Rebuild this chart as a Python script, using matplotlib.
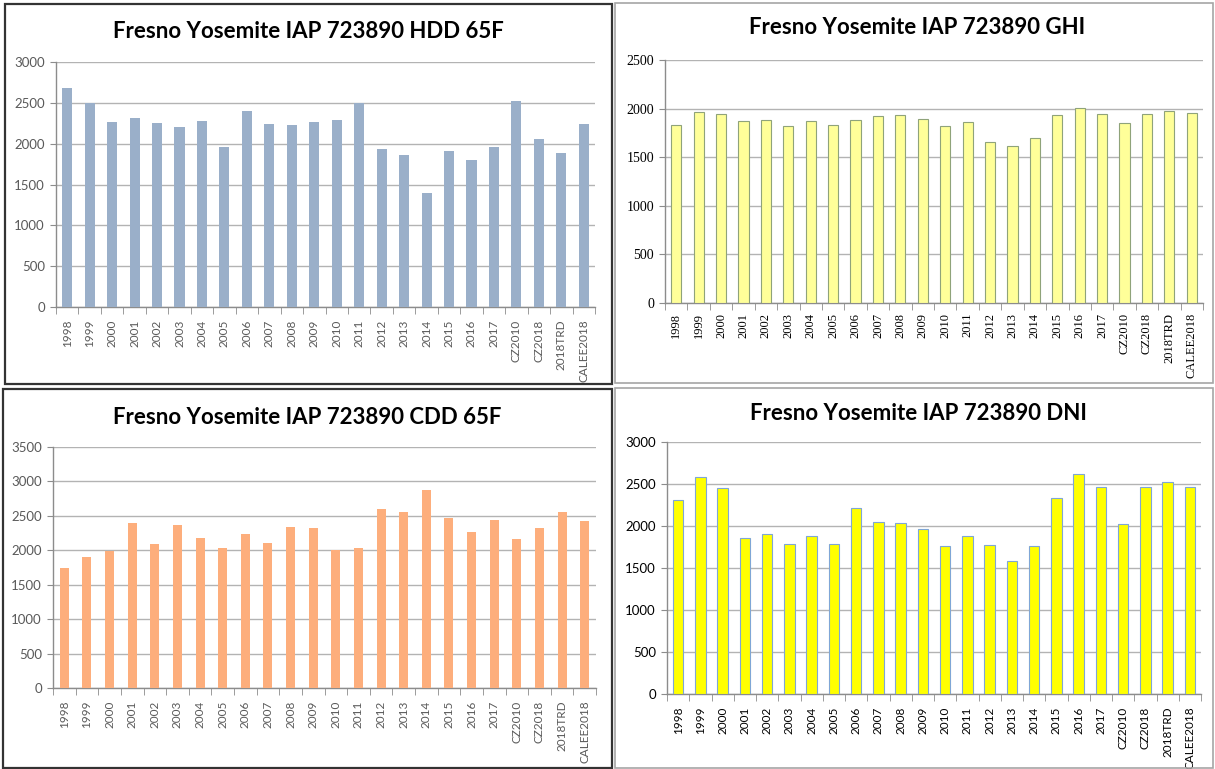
import matplotlib
matplotlib.use("Agg")
import matplotlib.pyplot as plt
from matplotlib.patches import Rectangle
import numpy as np

categories = ["1998", "1999", "2000", "2001", "2002", "2003", "2004", "2005",
              "2006", "2007", "2008", "2009", "2010", "2011", "2012", "2013",
              "2014", "2015", "2016", "2017", "CZ2010", "CZ2018", "2018TRD",
              "CALEE2018"]

hdd = [2680, 2500, 2270, 2310, 2250, 2200, 2280, 1960, 2400, 2240, 2230, 2270,
       2290, 2500, 1940, 1860, 1390, 1910, 1800, 1960, 2520, 2060, 1890, 2240]
ghi = [1830, 1970, 1940, 1870, 1880, 1820, 1870, 1830, 1880, 1920, 1930, 1890,
       1820, 1860, 1660, 1620, 1700, 1930, 2010, 1940, 1850, 1940, 1980, 1950]
cdd = [1740, 1900, 1990, 2390, 2090, 2360, 2180, 2030, 2240, 2100, 2340, 2330,
       2000, 2040, 2600, 2560, 2870, 2470, 2270, 2440, 2170, 2330, 2550, 2430]
dni = [2310, 2580, 2450, 1860, 1900, 1780, 1880, 1780, 2210, 2050, 2040, 1960,
       1760, 1880, 1770, 1580, 1760, 2330, 2620, 2460, 2020, 2460, 2520, 2460]

W, H = 1215, 769
fig = plt.figure(figsize=(W / 100, H / 100), dpi=100)
fig.patch.set_facecolor("white")


def px_axes(x0, y0, x1, y1):
    return fig.add_axes([x0 / W, 1 - y1 / H, (x1 - x0) / W, (y1 - y0) / H])


def frame(x0, y0, x1, y1, color, lw):
    fig.add_artist(Rectangle((x0 / W, 1 - y1 / H), (x1 - x0) / W, (y1 - y0) / H,
                             transform=fig.transFigure, fill=False,
                             edgecolor=color, linewidth=lw))


def panel(box, values, ymax, title, title_xy, face, edge, width,
          tick_font, tick_color, ysize, xsize, xpad):
    ax = px_axes(*box)
    x = np.arange(len(categories))
    ax.bar(x, values, width=width, color=face, edgecolor=edge,
           linewidth=0.8 if edge != "none" else 0, zorder=3)
    ax.set_xlim(-0.5, len(categories) - 0.5)
    ax.set_ylim(0, ymax)
    ax.set_yticks(np.arange(0, ymax + 1, 500))
    ax.yaxis.grid(True, color="#b3b3b3", linewidth=1.0, zorder=0)
    for s in ["top", "right"]:
        ax.spines[s].set_visible(False)
    for s in ["left", "bottom"]:
        ax.spines[s].set_color("#8c8c8c")
        ax.spines[s].set_linewidth(1.0)
    ax.set_xticks(x)
    ax.set_xticklabels(categories, rotation=90, fontfamily=tick_font,
                       fontsize=xsize, color=tick_color)
    ax.tick_params(axis="x", which="major", length=0, pad=xpad)
    ax.set_xticks(np.arange(-0.5, len(categories), 1), minor=True)
    ax.tick_params(axis="x", which="minor", length=5, color="#8c8c8c",
                   direction="out")
    ax.tick_params(axis="y", length=4, color="#8c8c8c", direction="out",
                   labelsize=ysize, labelcolor=tick_color, pad=4)
    for lab in ax.get_yticklabels():
        lab.set_fontfamily(tick_font)
    fig.text(title_xy[0] / W, 1 - title_xy[1] / H, title, ha="center",
             va="center", fontsize=16, fontweight="bold", fontfamily="Lato",
             color="black")
    return ax


# panel frames
frame(5, 4, 612, 384, "#333333", 1.6)
frame(615, 3, 1213, 383, "#a6a6a6", 1.2)
frame(3, 389, 612, 768, "#333333", 1.6)
frame(615, 388, 1213, 768, "#a6a6a6", 1.2)

panel((56, 62, 595, 307), hdd, 3000, "Fresno Yosemite IAP 723890 HDD 65F",
      (308, 32), "#9aafc9", "none", 0.45, "Lato", "#595959", 9.5, 8.5, 9)
panel((665, 60, 1203, 303), ghi, 2500, "Fresno Yosemite IAP 723890 GHI",
      (917, 28), "#ffff99", "#8fa37a", 0.45, "Liberation Serif", "black",
      10, 9, 7)
panel((53, 447, 596, 688), cdd, 3500, "Fresno Yosemite IAP 723890 CDD 65F",
      (307, 417), "#fdae7c", "none", 0.4, "Lato", "#595959", 9.5, 8.5, 9)
panel((667, 442, 1201, 694), dni, 3000, "Fresno Yosemite IAP 723890 DNI",
      (918, 413), "#ffff00", "#7fa6d6", 0.48, "Lato", "black", 9.5, 8.5, 9)

fig.savefig("out.png", dpi=100)
